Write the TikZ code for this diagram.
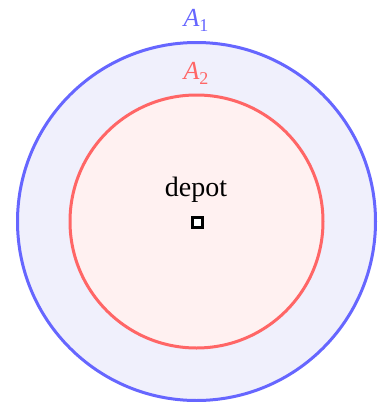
\documentclass[tikz,border=0pt]{standalone}
\usepackage{fontspec}
\setmainfont{Liberation Serif}
\definecolor{outerc}{RGB}{102,102,255}
\definecolor{outerf}{RGB}{240,240,252}
\definecolor{innerc}{RGB}{255,102,102}
\definecolor{innerf}{RGB}{255,241,241}
\tikzset{
  lbl/.style={font=\fontsize{26}{30}\selectfont, inner sep=0pt},
  region/.style={circle, line width=3pt, inner sep=0pt}
}
\newcommand{\subnum}[1]{\raisebox{-5pt}{\fontsize{18}{20}\selectfont #1}}
\begin{document}
\begin{tikzpicture}[x=1pt,y=-1pt]
\useasboundingbox (0,0) rectangle (379,402);
\node[region, draw=outerc, fill=outerf, minimum size=358pt] (outer) at (196.5,221.5) {};
\node[region, draw=innerc, fill=innerf, minimum size=253pt] (inner) at (196.5,221.5) {};
\node[lbl, text=outerc] (a1) at (196,20) {\textit{A}\subnum{1}};
\node[lbl, text=innerc] (a2) at (196,73) {\textit{A}\subnum{2}};
\node[lbl, font=\fontsize{28}{32}\selectfont] (depot) at (196,190) {depot};
\node[draw=black, line width=3pt, minimum size=10pt, inner sep=0pt, fill=white] (sq) at (197,222) {};
\end{tikzpicture}
\end{document}
